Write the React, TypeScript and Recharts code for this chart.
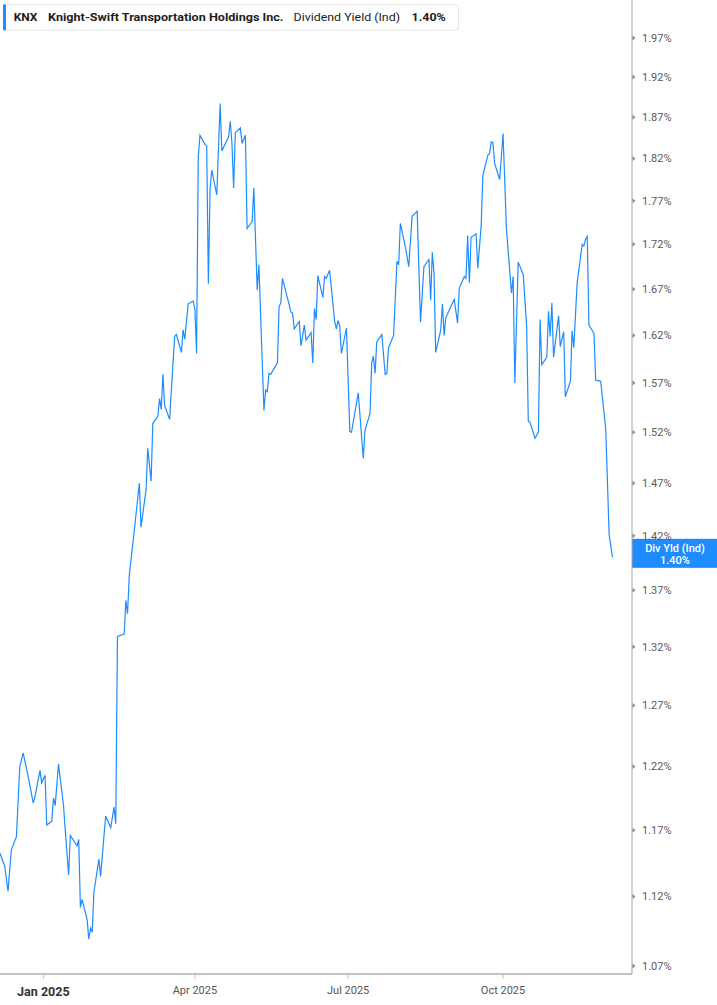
import { LineChart, Line, XAxis, YAxis, ReferenceLine } from 'recharts';

// trading days (Dec 2024 – Dec 2025)
const dates: string[] = [
  '2024-12-06', '2024-12-09', '2024-12-11', '2024-12-13', '2024-12-16', '2024-12-18', '2024-12-20', '2024-12-23', '2024-12-26', '2024-12-27',
  '2024-12-30', '2024-12-31', '2025-01-02', '2025-01-03', '2025-01-06', '2025-01-07', '2025-01-08', '2025-01-10', '2025-01-13', '2025-01-14',
  '2025-01-16', '2025-01-17', '2025-01-21', '2025-01-22', '2025-01-23', '2025-01-24', '2025-01-27', '2025-01-28', '2025-01-29', '2025-01-30',
  '2025-01-31', '2025-02-03', '2025-02-04', '2025-02-07', '2025-02-10', '2025-02-12', '2025-02-13', '2025-02-14', '2025-02-18', '2025-02-19',
  '2025-02-20', '2025-02-21', '2025-02-24', '2025-02-27', '2025-02-28', '2025-03-03', '2025-03-04', '2025-03-06', '2025-03-07', '2025-03-10',
  '2025-03-11', '2025-03-12', '2025-03-13', '2025-03-14', '2025-03-17', '2025-03-19', '2025-03-20', '2025-03-21', '2025-03-24', '2025-03-25',
  '2025-03-26', '2025-03-28', '2025-03-31', '2025-04-01', '2025-04-02', '2025-04-03', '2025-04-04', '2025-04-07', '2025-04-08', '2025-04-09',
  '2025-04-10', '2025-04-11', '2025-04-14', '2025-04-16', '2025-04-17', '2025-04-21', '2025-04-22', '2025-04-23', '2025-04-24', '2025-04-25',
  '2025-04-28', '2025-04-29', '2025-05-01', '2025-05-02', '2025-05-05', '2025-05-06', '2025-05-08', '2025-05-09', '2025-05-12', '2025-05-13',
  '2025-05-14', '2025-05-15', '2025-05-16', '2025-05-20', '2025-05-21', '2025-05-22', '2025-05-23', '2025-05-27', '2025-05-28', '2025-05-29',
  '2025-05-30', '2025-06-02', '2025-06-03', '2025-06-05', '2025-06-06', '2025-06-09', '2025-06-10', '2025-06-11', '2025-06-12', '2025-06-13',
  '2025-06-16', '2025-06-17', '2025-06-18', '2025-06-20', '2025-06-23', '2025-06-24', '2025-06-25', '2025-06-26', '2025-06-27', '2025-06-30',
  '2025-07-02', '2025-07-03', '2025-07-07', '2025-07-10', '2025-07-11', '2025-07-14', '2025-07-15', '2025-07-16', '2025-07-17', '2025-07-18',
  '2025-07-21', '2025-07-23', '2025-07-24', '2025-07-25', '2025-07-28', '2025-07-30', '2025-07-31', '2025-08-01', '2025-08-04', '2025-08-06',
  '2025-08-08', '2025-08-11', '2025-08-13', '2025-08-15', '2025-08-18', '2025-08-19', '2025-08-20', '2025-08-21', '2025-08-22', '2025-08-25',
  '2025-08-26', '2025-08-27', '2025-08-28', '2025-08-29', '2025-09-02', '2025-09-04', '2025-09-05', '2025-09-08', '2025-09-09', '2025-09-10',
  '2025-09-11', '2025-09-12', '2025-09-15', '2025-09-16', '2025-09-18', '2025-09-19', '2025-09-22', '2025-09-23', '2025-09-24', '2025-09-25',
  '2025-09-26', '2025-09-29', '2025-10-01', '2025-10-03', '2025-10-06', '2025-10-07', '2025-10-08', '2025-10-10', '2025-10-13', '2025-10-15',
  '2025-10-16', '2025-10-17', '2025-10-20', '2025-10-22', '2025-10-23', '2025-10-24', '2025-10-27', '2025-10-28', '2025-10-29', '2025-10-30',
  '2025-10-31', '2025-11-03', '2025-11-04', '2025-11-06', '2025-11-07', '2025-11-10', '2025-11-11', '2025-11-12', '2025-11-14', '2025-11-17',
  '2025-11-18', '2025-11-19', '2025-11-20', '2025-11-21', '2025-11-24', '2025-11-25', '2025-11-28', '2025-12-01', '2025-12-03', '2025-12-05',
];

// dividend yield (ind), %
const yields: number[] = [
  1.153, 1.143, 1.124, 1.155, 1.165, 1.220, 1.231, 1.212, 1.191, 1.196,
  1.217, 1.207, 1.213, 1.174, 1.177, 1.195, 1.189, 1.222, 1.189, 1.170,
  1.136, 1.166, 1.158, 1.163, 1.112, 1.118, 1.103, 1.089, 1.097, 1.094,
  1.123, 1.148, 1.135, 1.181, 1.172, 1.188, 1.175, 1.329, 1.331, 1.361,
  1.349, 1.383, 1.425, 1.470, 1.428, 1.464, 1.504, 1.472, 1.529, 1.536,
  1.554, 1.543, 1.579, 1.547, 1.533, 1.591, 1.619, 1.621, 1.602, 1.626,
  1.616, 1.654, 1.657, 1.648, 1.601, 1.822, 1.848, 1.837, 1.835, 1.676,
  1.783, 1.806, 1.777, 1.887, 1.829, 1.846, 1.865, 1.838, 1.785, 1.851,
  1.857, 1.838, 1.848, 1.738, 1.746, 1.785, 1.669, 1.697, 1.542, 1.563,
  1.561, 1.580, 1.579, 1.591, 1.651, 1.655, 1.682, 1.653, 1.645, 1.644,
  1.627, 1.635, 1.609, 1.631, 1.615, 1.623, 1.591, 1.649, 1.637, 1.685,
  1.661, 1.684, 1.682, 1.691, 1.635, 1.627, 1.636, 1.630, 1.601, 1.628,
  1.521, 1.520, 1.560, 1.494, 1.522, 1.539, 1.591, 1.598, 1.580, 1.613,
  1.621, 1.579, 1.580, 1.607, 1.620, 1.701, 1.697, 1.744, 1.717, 1.695,
  1.752, 1.758, 1.634, 1.695, 1.703, 1.658, 1.711, 1.688, 1.602, 1.626,
  1.654, 1.620, 1.639, 1.643, 1.659, 1.633, 1.671, 1.684, 1.682, 1.730,
  1.677, 1.728, 1.732, 1.693, 1.741, 1.800, 1.824, 1.826, 1.840, 1.839,
  1.814, 1.795, 1.850, 1.738, 1.666, 1.684, 1.570, 1.700, 1.686, 1.630,
  1.531, 1.530, 1.514, 1.520, 1.637, 1.589, 1.597, 1.646, 1.619, 1.655,
  1.597, 1.641, 1.608, 1.624, 1.556, 1.572, 1.625, 1.607, 1.677, 1.720,
  1.718, 1.726, 1.729, 1.631, 1.622, 1.573, 1.572, 1.523, 1.421, 1.400,
];

const yTicks: number[] = [
  1.07, 1.12, 1.17, 1.22, 1.27, 1.32, 1.37, 1.42, 1.47, 1.52,
  1.57, 1.62, 1.67, 1.72, 1.77, 1.82, 1.87, 1.92, 1.97,
];
const xTickDates: string[] = ['2025-01-01', '2025-04-01', '2025-07-01', '2025-10-01'];
const xTickLabels: string[] = ['Jan 2025', 'Apr 2025', 'Jul 2025', 'Oct 2025'];

const BLUE = '#1e8cff';
const FONT = 'Roboto, "Open Sans", sans-serif';

const data = dates.map((d, i) => ({ t: Date.parse(d), v: yields[i] }));
const xTicks = xTickDates.map((d) => Date.parse(d));
const xDomain = [Date.UTC(2024, 11, 6, 6), Date.UTC(2025, 11, 16, 14)];
const yDomain = [1.0644, 2.0199];
const lastValue = yields[yields.length - 1];

function YTick(props: any) {
  const { x, y, payload } = props;
  return (
    <g>
      <path d={`M${x - 9.5},${y - 2.5} L${x - 6.5},${y} L${x - 9.5},${y + 2.5} Z`} fill="#8a8a8a" />
      <text x={x} y={y} dy={3.9} fill="#5a5a5a" fontSize={11} fontFamily={FONT}>
        {payload.value.toFixed(2)}%
      </text>
    </g>
  );
}

function XTick(props: any) {
  const { x, y, payload } = props;
  const i = xTicks.indexOf(payload.value);
  const first = i === 0;
  return (
    <text
      x={x}
      y={y}
      dy={first ? 15 : 12.5}
      textAnchor="middle"
      fill={first ? '#333' : '#555'}
      fontSize={first ? 12.5 : 11}
      fontWeight={first ? 700 : 400}
      fontFamily={FONT}
    >
      {xTickLabels[i]}
    </text>
  );
}

function PriceTag(props: any) {
  const { viewBox } = props;
  const x = viewBox.x + viewBox.width;
  const y = viewBox.y;
  return (
    <g>
      <rect x={x} y={y - 18.5} width={86} height={29} fill={BLUE} />
      <text x={x + 43} y={y - 5.5} textAnchor="middle" fill="#fff" fontSize={11} fontWeight={500} fontFamily={FONT}>
        Div Yld (Ind)
      </text>
      <text x={x + 43} y={y + 6.5} textAnchor="middle" fill="#fff" fontSize={11} fontWeight={500} fontFamily={FONT}>
        {lastValue.toFixed(2)}%
      </text>
    </g>
  );
}

function Header() {
  return (
    <svg width={717} height={40} style={{ position: 'absolute', left: 0, top: 0, pointerEvents: 'none' }}>
      <rect x={3.5} y={4.5} width={455} height={25.5} rx={3} fill="#fff" stroke="#e4e4e4" />
      <rect x={3} y={4} width={3} height={26.5} rx={1.5} fill={BLUE} />
      <g fontFamily={FONT} fontSize={11.5} fill="#1d1d1d">
        <text x={13.7} y={20.7} fontWeight={700} textLength={23.8} lengthAdjust="spacingAndGlyphs">KNX</text>
        <text x={48} y={20.7} fontWeight={700} textLength={235.5} lengthAdjust="spacingAndGlyphs">
          Knight-Swift Transportation Holdings Inc.
        </text>
        <text x={293.5} y={20.7} fontWeight={400} textLength={106.5} lengthAdjust="spacingAndGlyphs">
          Dividend Yield (Ind)
        </text>
        <text x={411.5} y={20.7} fontWeight={700} textLength={34.3} lengthAdjust="spacingAndGlyphs">
          {lastValue.toFixed(2)}%
        </text>
      </g>
    </svg>
  );
}

export default function App() {
  return (
    <div style={{ position: 'absolute', left: 0, top: 0, width: 717, height: 1005, background: '#fff', fontFamily: FONT }}>
      <LineChart width={717} height={1005} data={data} margin={{ top: 0, right: 0, bottom: 0, left: 0 }}>
        <XAxis
          dataKey="t"
          type="number"
          domain={xDomain}
          allowDataOverflow
          ticks={xTicks}
          interval={0}
          height={31}
          tickSize={5}
          tickMargin={2}
          axisLine={{ stroke: '#c4c4c4', strokeWidth: 2 }}
          tickLine={{ stroke: '#c4c4c4' }}
          tick={<XTick />}
        />
        <YAxis
          orientation="right"
          type="number"
          scale="log"
          domain={yDomain}
          allowDataOverflow
          ticks={yTicks}
          interval={0}
          width={85}
          tickSize={6}
          tickMargin={4}
          axisLine={{ stroke: '#a3a3a3' }}
          tickLine={false}
          tick={<YTick />}
        />
        <Line
          dataKey="v"
          type="linear"
          stroke={BLUE}
          strokeWidth={1.2}
          dot={false}
          activeDot={false}
          isAnimationActive={false}
        />
        <ReferenceLine y={lastValue} stroke="none" label={<PriceTag />} />
      </LineChart>
      <Header />
    </div>
  );
}
